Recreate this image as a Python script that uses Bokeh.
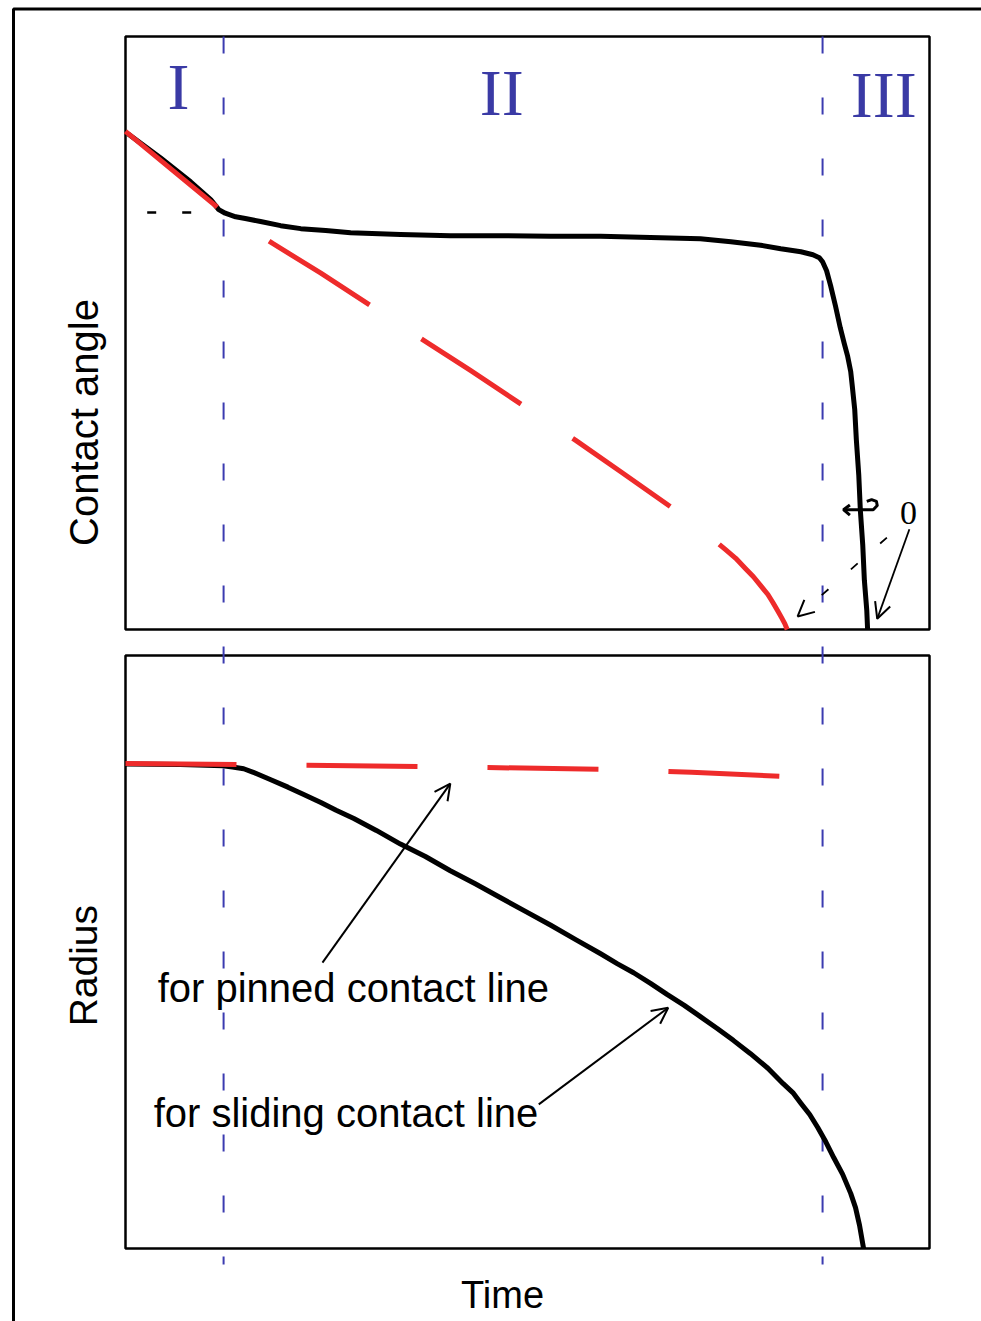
import math
from bokeh.plotting import figure
from bokeh.models import Range1d, Arrow, OpenHead
from bokeh.core.properties import value
from bokeh.embed import file_html
from bokeh.resources import INLINE

# ---------------- data (time and values in arbitrary units, 0..100 per panel) ----------------
black_angle_t = [0.3, 4.3, 8.1, 10.6, 11.6, 12.4, 13.7, 14.9, 16.8, 19.3, 21.8, 24.9, 28.0, 34.2,
                 40.4, 46.6, 52.9, 59.1, 65.3, 71.5, 75.3, 79.0, 81.5, 84.0, 85.5, 86.3, 86.7,
                 87.2, 87.7, 88.3, 88.9, 89.4, 89.8, 90.2, 90.4, 90.7, 90.9, 91.2, 91.4, 91.7,
                 91.9, 92.2, 92.3]
black_angle = [83.6, 79.6, 75.5, 72.5, 70.8, 70.2, 69.6, 69.3, 68.8, 68.1, 67.6, 67.3, 66.9, 66.6,
               66.4, 66.4, 66.3, 66.3, 66.1, 65.9, 65.4, 64.8, 64.2, 63.7, 63.2, 62.7, 62.0,
               60.5, 58.0, 54.6, 50.9, 48.2, 46.2, 43.5, 41.0, 37.1, 32.0, 26.1, 20.1, 14.2,
               8.3, 3.2, 0.0]

red_angle_t = [0.0, 11.6, 18.3, 24.3, 30.5, 36.7, 42.9, 49.1, 56.0, 61.6, 67.8, 71.5, 74.6, 75.9,
               77.1, 78.1, 79.0, 79.9, 80.5, 81.1, 81.6, 82.0, 82.3]
red_angle = [84.0, 71.0, 65.1, 60.1, 54.6, 49.1, 43.7, 38.1, 31.9, 26.6, 20.7, 17.0, 13.5, 12.0,
             10.3, 8.9, 7.4, 5.9, 4.6, 3.2, 2.0, 1.0, 0.0]

black_radius_t = [0.0, 6.8, 12.1, 13.3, 14.7, 15.9, 18.0, 20.2, 22.1, 24.3, 26.2, 28.4, 31.2, 34.2,
                  37.3, 40.4, 43.5, 46.6, 49.8, 52.9, 56.0, 59.1, 61.2, 63.2, 65.3, 67.4, 69.5,
                  71.5, 73.6, 75.6, 77.7, 79.9, 81.8, 83.0, 84.0, 85.1, 86.1, 87.1, 88.1, 89.2,
                  90.2, 90.8, 91.3, 91.8]
black_radius = [81.7, 81.6, 81.4, 81.2, 80.9, 80.3, 79.1, 77.8, 76.6, 75.2, 73.9, 72.5, 70.5, 68.2,
                66.1, 63.7, 61.5, 59.2, 56.8, 54.5, 52.1, 49.7, 48.0, 46.5, 44.7, 42.8, 41.0,
                39.1, 37.1, 35.1, 32.9, 30.4, 27.8, 26.3, 24.5, 22.6, 20.4, 18.0, 15.3, 12.5,
                9.3, 6.9, 3.9, 0.0]

red_radius_t = [0.0, 13.9, 36.4, 59.1, 70.4, 81.8]
red_radius = [81.8, 81.6, 81.3, 80.8, 80.3, 79.6]

region_bounds = [12.2, 86.7]          # time of the regime changes
region_labels = ["I", "II", "III"]
region_label_t = [6.6, 46.8, 94.3]
region_label_angle = [91.6, 90.6, 90.2]

kink_angle = 70.3                     # contact angle at the end of regime I
kink_ref_t = [2.7, 8.2]

# ---------------- layout geometry (pixels) ----------------
W, H = 981, 1321
PX_L, PX_R = 125, 929                 # panel left/right
TOP_Y0, TOP_Y1 = 36, 629              # top panel top/bottom
BOT_Y0, BOT_Y1 = 655, 1248            # bottom panel top/bottom
sx = (PX_R - PX_L) / 100.0
sy = (TOP_Y1 - TOP_Y0) / 100.0

x_range = Range1d(-PX_L / sx, (W - PX_L) / sx)
y_range = Range1d(-(H - TOP_Y1) / sy, TOP_Y1 / sy)
r_range = Range1d(-(H - BOT_Y1) / sy, BOT_Y1 / sy)
offset = (BOT_Y1 - TOP_Y1) / sy      # radius -> angle-axis offset

p = figure(width=W, height=H, x_range=x_range, y_range=y_range,
           output_backend="svg", toolbar_location=None,
           x_axis_type=None, y_axis_type=None,
           min_border=0, min_border_left=0, min_border_right=0,
           min_border_top=0, min_border_bottom=0)
p.extra_y_ranges = {"radius": r_range}
p.outline_line_color = None
p.grid.visible = False
p.background_fill_color = "white"
p.border_fill_color = "white"

# outer frame
p.quad(left=[(13 - PX_L) / sx], right=[(1010 - PX_L) / sx],
       top=[(TOP_Y1 - 8.5) / sy], bottom=[(TOP_Y1 - 1345) / sy],
       fill_color=None, line_color="black", line_width=3)

# panel boxes
p.quad(left=[0], right=[100], bottom=[0], top=[100], fill_color=None,
       line_color="black", line_width=2.5)
p.quad(left=[0], right=[100], bottom=[0], top=[100], fill_color=None,
       line_color="black", line_width=2.5, y_range_name="radius")

# regime boundaries (blue dashed, spanning both panels)
y_bottom = -2.7 - offset
p.segment(x0=region_bounds, x1=region_bounds, y0=[100, 100], y1=[y_bottom, y_bottom],
          line_color="#3b3bb0", line_width=2, line_dash="17 44")

# regime labels
p.text(x=region_label_t, y=region_label_angle, text=region_labels,
       text_font=value("Liberation Serif"), text_font_size="66px",
       text_color="#3a3aa5", text_align="center", text_baseline="middle")

# short reference dashes at kink angle
p.line(x=kink_ref_t, y=[kink_angle, kink_angle], line_color="black",
       line_width=2.5, line_dash="9 26")

# contact angle curves
p.line(black_angle_t, black_angle, line_color="black", line_width=5, line_join="round")
p.line(red_angle_t, red_angle, line_color="#ee2b2b", line_width=5, line_dash="119 62",
       line_join="round")

# radius curves
p.line(black_radius_t, black_radius, line_color="black", line_width=5, line_join="round",
       y_range_name="radius")
p.line(red_radius_t, red_radius, line_color="#ee2b2b", line_width=5, line_dash="111 70",
       y_range_name="radius")

# "0" annotation with arrows
p.text(x=[97.4], y=[19.7], text=["0"], text_font=value("Liberation Serif"),
       text_font_size="34px", text_color="black", text_align="center", text_baseline="middle")
p.add_layout(Arrow(end=OpenHead(size=16, line_width=2, line_color="black"),
                   x_start=97.5, y_start=16.9, x_end=93.5, y_end=1.8,
                   line_color="black", line_width=1.8))
p.add_layout(Arrow(end=OpenHead(size=16, line_width=2, line_color="black"),
                   x_start=94.7, y_start=15.5, x_end=83.6, y_end=2.2,
                   line_color="black", line_width=1.8, line_dash="9 30"))

# small hooked arrow symbol on the receding line
p.line(x=[89.3, 93.0, 93.5, 93.4, 92.8, 92.2], y=[20.2, 20.2, 20.9, 21.6, 21.9, 21.6],
       line_color="black", line_width=3, line_join="round")
p.line(x=[90.1, 89.3, 90.1], y=[21.0, 20.2, 19.3], line_color="black", line_width=3)

# annotations in radius panel
p.text(x=[4.0], y=[44.0], text=["for pinned contact line"], text_font=value("Liberation Sans"),
       text_font_size="40px", text_align="left", text_baseline="middle",
       y_range_name="radius")
p.text(x=[3.5], y=[22.9], text=["for sliding contact line"], text_font=value("Liberation Sans"),
       text_font_size="40px", text_align="left", text_baseline="middle",
       y_range_name="radius")
p.add_layout(Arrow(end=OpenHead(size=16, line_width=2, line_color="black"),
                   x_start=24.5, y_start=48.2, x_end=40.4, y_end=78.4,
                   line_color="black", line_width=2, y_range_name="radius"))
p.add_layout(Arrow(end=OpenHead(size=16, line_width=2, line_color="black"),
                   x_start=51.4, y_start=24.3, x_end=67.5, y_end=40.6,
                   line_color="black", line_width=2, y_range_name="radius"))

# axis titles
p.text(x=[-5.2], y=[34.9], text=["Contact angle"], angle=math.pi / 2,
       text_font=value("Liberation Sans"), text_font_size="40px",
       text_align="center", text_baseline="middle")
p.text(x=[-5.2], y=[47.7], text=["Radius"], angle=math.pi / 2,
       text_font=value("Liberation Sans"), text_font_size="39px",
       text_align="center", text_baseline="middle", y_range_name="radius")
p.text(x=[46.9], y=[-7.9], text=["Time"], text_font=value("Liberation Sans"),
       text_font_size="38px", text_align="center", text_baseline="middle",
       y_range_name="radius")

open("out.html", "w").write(file_html(p, INLINE))
